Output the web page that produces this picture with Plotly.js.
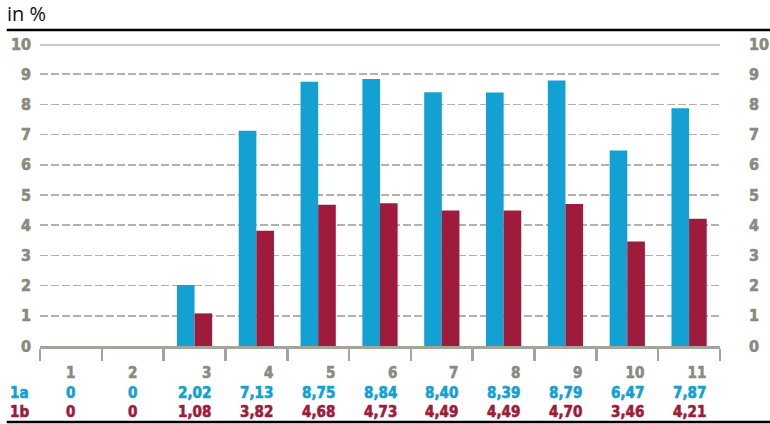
<!DOCTYPE html>
<html>
<head>
<meta charset="utf-8">
<script src="https://cdn.plot.ly/plotly-3.0.1.min.js"></script>
<style>html,body{margin:0;padding:0;background:#fff;}#chart{width:770px;height:424px;}</style>
</head>
<body>
<div id="chart"></div>
<script>
// ---- data ----
const categories = [1, 2, 3, 4, 5, 6, 7, 8, 9, 10, 11];
const series1a = [0, 0, 2.02, 7.13, 8.75, 8.84, 8.40, 8.39, 8.79, 6.47, 7.87];
const series1b = [0, 0, 1.08, 3.82, 4.68, 4.73, 4.49, 4.49, 4.70, 3.46, 4.21];
const seriesNames = ["1a", "1b"];
const yTicks = [0, 1, 2, 3, 4, 5, 6, 7, 8, 9, 10];
const unitLabel = "in %";

// ---- style ----
const BLUE = "#13a0d2";
const RED = "#9e1b3b";
const GRAY = "#8a8a7e";
const AXIS = "#a4a498";
const GRID = "#b2b2a8";
const FAMILY = "DejaVu Sans Condensed, DejaVu Sans, sans-serif";
const TICKFONT = {family: FAMILY, size: 16, color: GRAY, weight: "bold"};

function fmt(v) { return v === 0 ? "0" : v.toFixed(2).replace(".", ","); }

const traces = [
  {type: "bar", x: categories, y: series1a, name: seriesNames[0], marker: {color: BLUE}, hoverinfo: "skip"},
  {type: "bar", x: categories, y: series1b, name: seriesNames[1], marker: {color: RED}, hoverinfo: "skip"},
  {type: "scatter", x: categories, y: series1a, yaxis: "y2", mode: "none", showlegend: false, hoverinfo: "skip"}
];

const boundaries = categories.map(c => c - 0.5).concat([categories[categories.length - 1] + 0.5]);
const yTickText = yTicks.map(v => "<b>" + v + "</b>");

const annotations = [];
categories.forEach((c, i) => {
  annotations.push({
    x: c, xref: "x", y: -0.052, yref: "paper", xanchor: "center", yanchor: "top",
    align: "right", showarrow: false,
    font: {family: FAMILY, size: 15, color: GRAY, weight: "bold"},
    text: "<b>" + String(c) + "<br><span style='color:" + BLUE + "'>" + fmt(series1a[i]) + "</span><br><span style='color:" + RED + "'>" + fmt(series1b[i]) + "</span></b>"
  });
});
annotations.push({
  x: -0.047, xref: "paper", y: -0.052, yref: "paper", xanchor: "left", yanchor: "top",
  align: "left", showarrow: false,
  font: {family: FAMILY, size: 15, color: GRAY, weight: "bold"},
  text: "<b> <br><span style='color:" + BLUE + "'>" + seriesNames[0] + "</span><br><span style='color:" + RED + "'>" + seriesNames[1] + "</span></b>"
});
annotations.push({
  x: -0.051, xref: "paper", y: 1.05, yref: "paper", xanchor: "left", yanchor: "bottom",
  showarrow: false, font: {family: "Open Sans, sans-serif", size: 20, color: "#111"},
  text: unitLabel
});

const layout = {
  width: 770, height: 424,
  margin: {l: 40, r: 50, t: 44, b: 78},
  paper_bgcolor: "#fff", plot_bgcolor: "#fff",
  showlegend: false,
  barmode: "group", bargap: 0.43, bargroupgap: 0,
  xaxis: {
    range: [0.5, 11.5], tickvals: boundaries, ticks: "outside", ticklen: 12, tickwidth: 2.5,
    tickcolor: AXIS, showticklabels: false, showgrid: false, zeroline: false,
    showline: true, linecolor: AXIS, linewidth: 2.5, fixedrange: true
  },
  yaxis: {
    range: [0, 10], tickvals: yTicks, ticktext: yTickText, ticks: "", ticklabelstandoff: 8,
    showgrid: true, gridcolor: GRID, gridwidth: 1.5, griddash: "8px,3px",
    zeroline: false, showline: false, tickfont: TICKFONT, fixedrange: true
  },
  yaxis2: {
    range: [0, 10], tickvals: yTicks, ticktext: yTickText, overlaying: "y", side: "right", ticks: "",
    ticklabelstandoff: 28, showgrid: false, zeroline: false, showline: false,
    tickfont: TICKFONT, fixedrange: true
  },
  shapes: [
    {type: "line", xref: "paper", yref: "y", x0: 0, x1: 1, y0: 10, y1: 10, line: {color: "#c9c9c1", width: 4}},
    {type: "line", xref: "paper", yref: "paper", x0: -0.049, x1: 1.08, y0: 1.0464, y1: 1.0464, line: {color: "#000", width: 2.5}},
    {type: "line", xref: "paper", yref: "paper", x0: -0.049, x1: 1.08, y0: -0.2517, y1: -0.2517, line: {color: "#000", width: 2.5}}
  ],
  annotations: annotations
};

Plotly.newPlot("chart", traces, layout, {displayModeBar: false, staticPlot: true}).then(gd => {
  // heavier strokes for the condensed black-style labels
  gd.querySelectorAll(".ytick text, .y2tick text, .annotation-text").forEach(t => {
    if (t.textContent === unitLabel) return;
    t.querySelectorAll("tspan").forEach(s => {
      const f = s.style.fill || t.style.fill;
      if (f) { s.style.stroke = f; s.style.strokeWidth = "0.6px"; }
    });
    const f = t.style.fill;
    if (f) { t.style.stroke = f; t.style.strokeWidth = "0.6px"; }
  });
});
</script>
</body>
</html>
